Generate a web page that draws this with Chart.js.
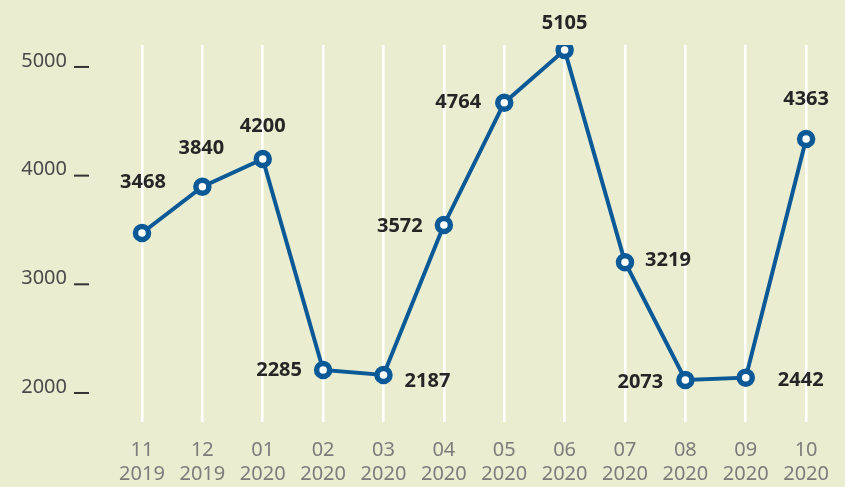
<!DOCTYPE html>
<html>
<head>
<meta charset="utf-8">
<script src="https://cdn.jsdelivr.net/npm/chart.js@4"></script>
<style>
  html, body { margin: 0; padding: 0; background: #eaedcf; }
  #wrap { width: 845px; height: 487px; position: relative; }
</style>
</head>
<body>
<div id="wrap"><canvas id="linechart"></canvas></div>
<script>
// months (top line) and years (second line) on the x axis
const months = ['11', '12', '01', '02', '03', '04', '05', '06', '07', '08', '09', '10'];
const years = ['2019', '2019', '2020', '2020', '2020', '2020', '2020', '2020', '2020', '2020', '2020', '2020'];
// plotted values
const values = [3472, 3898, 4153, 2212, 2166, 3546, 4671, 5156, 3203, 2120, 2141, 4337];
// numbers printed next to the points
const valueLabels = ['3468', '3840', '4200', '2285', '2187', '3572', '4764', '5105', '3219', '2073', '2442', '4363'];
// y axis tick labels
const yTicks = [2000, 3000, 4000, 5000];

// where each number sits relative to its point (dx, dy)
const labelOffsets = [
    [1, -51], [-1, -38], [0, -33], [-44, 0], [44, 6], [-44, 1],
    [-46, 0], [0, -27], [43, -2], [-45, 2], [55, 3], [0, -40]
];

const ctx = document.getElementById('linechart').getContext('2d');

// y axis: number plus a short dash at the value
const yLabelsPlugin = {
    id: 'yLabels',
    afterDraw(chart) {
        const c = chart.ctx;
        const y = chart.scales.y;
        c.save();
        c.font = '20px "Noto Sans"';
        c.textAlign = 'right';
        c.textBaseline = 'middle';
        yTicks.forEach(function (v) {
            const py = y.getPixelForValue(v);
            c.fillStyle = '#4a4a4a';
            c.fillText(String(v), 67, py - 6);
            c.fillStyle = '#333';
            c.fillRect(74, py - 1, 15, 2);
        });
        c.restore();
    }
};

// bold numbers next to the points
const valueLabelsPlugin = {
    id: 'valueLabels',
    afterDatasetsDraw(chart) {
        const c = chart.ctx;
        const pts = chart.getDatasetMeta(0).data;
        c.save();
        c.font = 'bold 20px "Noto Sans"';
        c.fillStyle = '#262626';
        c.textAlign = 'center';
        c.textBaseline = 'middle';
        pts.forEach(function (p, i) {
            c.fillText(valueLabels[i], p.x + labelOffsets[i][0], p.y + labelOffsets[i][1]);
        });
        c.restore();
    }
};

const linechart = new Chart(ctx, {
    type: 'line',
    data: {
        labels: months.map((m, i) => [m, years[i]]),
        datasets: [{
            data: values,
            borderColor: '#0b5996',
            borderWidth: 4,
            pointRadius: 6.5,
            pointHoverRadius: 6.5,
            pointBorderWidth: 5.5,
            pointBorderColor: '#0b5996',
            pointBackgroundColor: '#ffffff',
            tension: 0
        }]
    },
    options: {
        responsive: true,
        maintainAspectRatio: false,
        animation: false,
        events: [],
        layout: {
            padding: { left: 142, right: 38, top: 45, bottom: 0 }
        },
        plugins: {
            legend: { display: false },
            tooltip: { enabled: false }
        },
        scales: {
            x: {
                offset: false,
                border: { display: false },
                grid: {
                    color: '#ffffff',
                    lineWidth: 2.6,
                    drawTicks: false
                },
                ticks: {
                    color: '#7c7c7c',
                    font: { family: 'Noto Sans', size: 20, lineHeight: 1.2 },
                    padding: 16,
                    maxRotation: 0,
                    autoSkip: false
                },
                afterFit: function (scale) {
                    scale.height = 65;
                }
            },
            y: {
                display: false,
                min: 1733,
                max: 5202
            }
        }
    },
    plugins: [yLabelsPlugin, valueLabelsPlugin]
});
</script>
</body>
</html>
